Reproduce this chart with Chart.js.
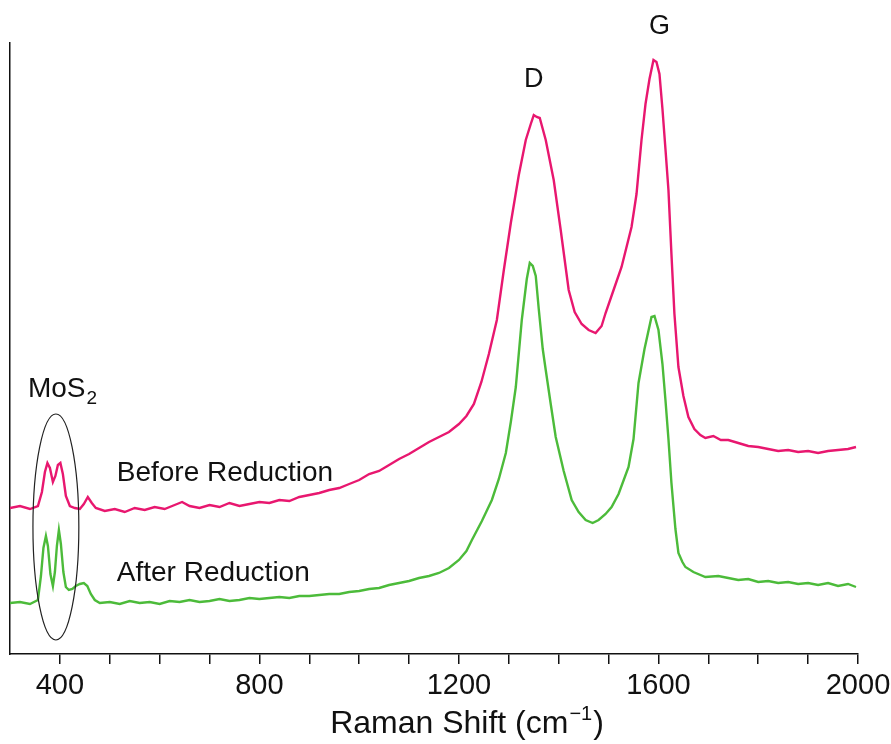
<!DOCTYPE html>
<html>
<head>
<meta charset="utf-8">
<script src="https://cdn.jsdelivr.net/npm/chart.js@4.4.0/dist/chart.umd.min.js"></script>
<style>
  html, body { margin: 0; padding: 0; background: #fff; }
  #wrap { width: 891px; height: 744px; position: relative; }
</style>
</head>
<body>
<div id="wrap"><canvas id="ramanChart"></canvas></div>
<script>
// Raman shift (cm-1) and intensity (a.u.)
const beforeShift = [300, 320, 340, 356, 364, 370, 375, 380, 386, 391, 396, 401, 406, 412, 420, 430, 440, 448, 456, 464, 472,
    490, 510, 530, 550, 570, 590, 610, 630, 645, 660, 680, 700, 720, 740, 760, 780, 800, 820, 840, 860, 880, 900, 920, 940,
    960, 980, 1000, 1020, 1040, 1060, 1080, 1100, 1120, 1140, 1160, 1180, 1200, 1215, 1230, 1245, 1260, 1276, 1290, 1304,
    1320, 1334, 1344, 1350, 1356, 1362, 1374, 1390, 1404, 1420, 1432, 1446, 1460, 1474, 1486, 1494, 1510, 1526, 1546, 1556,
    1566, 1574, 1582, 1590, 1596, 1602, 1608, 1614, 1620, 1626, 1632, 1640, 1650, 1660, 1672, 1684, 1694, 1710, 1725, 1740,
    1760, 1780, 1800, 1820, 1840, 1860, 1880, 1900, 1920, 1940, 1960, 1980, 1996];
const beforeIntensity = [146, 148, 145, 148, 162, 182, 191, 186, 172, 178, 189, 191, 180, 158, 148, 146, 145, 150, 157, 151, 146,
    143, 145, 142, 146, 144, 147, 145, 149, 152, 148, 146, 149, 147, 151, 148, 150, 152, 151, 154, 153, 157, 159, 161, 164,
    166, 170, 174, 180, 183, 189, 195, 200, 206, 212, 217, 222, 230, 238, 250, 272, 300, 334, 384, 431,
    479, 514, 530, 539, 537, 536, 514, 474, 424, 364, 342, 330, 324, 321, 328, 341, 364, 387, 427, 460,
    514, 550, 575, 594, 592, 580, 545, 505, 464, 400, 340, 287, 258, 237, 225, 219, 216, 218, 214, 214,
    211, 208, 207, 205, 203, 204, 202, 203, 201, 203, 204, 205, 207];

const afterShift = [300, 320, 340, 356, 362, 367, 372, 376, 381, 386, 390, 394, 398, 402, 407, 412, 418, 425, 432, 440, 448,
    455, 462, 470, 480, 500, 520, 540, 560, 580, 600, 620, 640, 660, 680, 700, 720, 740, 760, 780, 800, 820, 840, 860, 880,
    900, 920, 940, 960, 980, 1000, 1020, 1040, 1060, 1080, 1100, 1120, 1140, 1160, 1180, 1200, 1215, 1226, 1246, 1266, 1280,
    1294, 1304, 1314, 1326, 1336, 1342, 1348, 1354, 1360, 1368, 1374, 1384, 1394, 1410, 1426, 1440, 1454, 1468, 1480, 1494,
    1506, 1520, 1540, 1550, 1560, 1572, 1586, 1592, 1600, 1608, 1614, 1620, 1626, 1634, 1640, 1648, 1654, 1670, 1694, 1720,
    1740, 1760, 1780, 1800, 1820, 1840, 1860, 1880, 1900, 1920, 1940, 1960, 1980, 1996];
const afterIntensity = [51, 52, 50, 54, 78, 106, 118, 108, 80, 68, 82, 108, 124, 110, 82, 67, 64, 65, 68, 70, 71,
    68, 60, 54, 51, 52, 50, 53, 51, 52, 50, 53, 52, 54, 52, 53, 55, 53, 54, 56, 55, 56, 57, 56, 58,
    58, 59, 60, 60, 62, 63, 65, 66, 69, 71, 73, 76, 78, 81, 86, 94, 103, 114, 133, 154, 175,
    201, 232, 267, 334, 375, 391, 388, 378, 345, 305, 284, 250, 217, 183, 154, 142, 134, 131, 134, 140,
    147, 160, 187, 215, 271, 305, 337, 338, 324, 290, 254, 215, 171, 125, 101, 92, 87, 82, 77, 78,
    76, 74, 75, 72, 73, 71, 72, 70, 71, 69, 71, 68, 70, 67];

const xLabels = [400, 800, 1200, 1600, 2000];

const pink = '#e8176f';
const green = '#4cbb3a';
const fontFamily = "'Liberation Sans', Arial, sans-serif";

function toPoints(xs, ys) {
    return xs.map((x, i) => ({ x: x, y: ys[i] }));
}

// ellipse around the MoS2 peaks, the text labels and the axis title
const annotations = {
    id: 'annotations',
    afterDatasetsDraw(chart) {
        const ctx = chart.ctx;
        const xs = chart.scales.x;
        const ys = chart.scales.y;
        ctx.save();

        const cx = xs.getPixelForValue(392);
        const rx = xs.getPixelForValue(438) - cx;
        const cy = ys.getPixelForValue(127);
        const ry = cy - ys.getPixelForValue(240);
        ctx.beginPath();
        ctx.ellipse(cx, cy, rx, ry, 0, 0, Math.PI * 2);
        ctx.strokeStyle = '#222';
        ctx.lineWidth = 1.2;
        ctx.stroke();

        ctx.fillStyle = '#111';
        ctx.textBaseline = 'middle';
        ctx.font = '27px ' + fontFamily;
        ctx.textAlign = 'center';
        ctx.fillText('D', xs.getPixelForValue(1350), ys.getPixelForValue(574));
        ctx.fillText('G', xs.getPixelForValue(1602), ys.getPixelForValue(627));

        ctx.textAlign = 'left';
        ctx.font = '28px ' + fontFamily;
        const mx = xs.getPixelForValue(336);
        const my = ys.getPixelForValue(265);
        ctx.fillText('MoS', mx, my);
        const w = ctx.measureText('MoS').width;
        ctx.font = '19px ' + fontFamily;
        ctx.fillText('2', mx + w + 1, my + 10);

        ctx.font = '28px ' + fontFamily;
        ctx.fillText('Before Reduction', xs.getPixelForValue(514), ys.getPixelForValue(181));
        ctx.fillText('After Reduction', xs.getPixelForValue(514), ys.getPixelForValue(81));

        // x-axis title with superscript
        ctx.textBaseline = 'alphabetic';
        const big = '32px ' + fontFamily;
        const small = '20px ' + fontFamily;
        const p1 = 'Raman Shift (cm', p2 = '\u22121', p3 = ')';
        ctx.font = big;
        const w1 = ctx.measureText(p1).width, w3 = ctx.measureText(p3).width;
        ctx.font = small;
        const w2 = ctx.measureText(p2).width;
        let tx = 467 - (w1 + w2 + w3 + 2) / 2;
        const ty = 733;
        ctx.font = big;
        ctx.fillText(p1, tx, ty);
        tx += w1 + 1;
        ctx.font = small;
        ctx.fillText(p2, tx, ty - 13);
        tx += w2 + 1;
        ctx.font = big;
        ctx.fillText(p3, tx, ty);
        ctx.restore();
    }
};

const ctx = document.getElementById('ramanChart').getContext('2d');
new Chart(ctx, {
    type: 'line',
    data: {
        datasets: [{
            label: 'Before Reduction',
            data: toPoints(beforeShift, beforeIntensity),
            borderColor: pink,
            borderWidth: 2.4,
            pointRadius: 0,
            tension: 0
        }, {
            label: 'After Reduction',
            data: toPoints(afterShift, afterIntensity),
            borderColor: green,
            borderWidth: 2.4,
            pointRadius: 0,
            tension: 0
        }]
    },
    options: {
        responsive: true,
        maintainAspectRatio: false,
        animation: false,
        layout: { padding: { top: 43, left: 10, right: 0, bottom: 0 } },
        plugins: {
            legend: { display: false },
            tooltip: { enabled: false }
        },
        scales: {
            x: {
                type: 'linear',
                min: 300,
                max: 2000,
                afterBuildTicks: (scale) => {
                    scale.ticks = scale.ticks.filter(t => t.value !== 300);
                },
                afterFit: (scale) => {
                    scale.height = 90;
                    scale.paddingRight = 33;
                },
                ticks: {
                    stepSize: 100,
                    autoSkip: false,
                    maxRotation: 0,
                    padding: 5,
                    color: '#111',
                    font: { family: fontFamily, size: 29 },
                    callback: (v) => xLabels.includes(v) ? String(v) : ''
                },
                grid: {
                    drawOnChartArea: false,
                    drawTicks: true,
                    tickLength: 10,
                    color: '#111',
                    lineWidth: 1.5
                },
                border: { display: true, color: '#111', width: 1.5 },
                title: { display: false }
            },
            y: {
                min: 0,
                max: 611,
                ticks: { display: false },
                grid: { drawOnChartArea: false, drawTicks: false },
                border: { display: true, color: '#111', width: 1.5 }
            }
        }
    },
    plugins: [annotations]
});
</script>
</body>
</html>
